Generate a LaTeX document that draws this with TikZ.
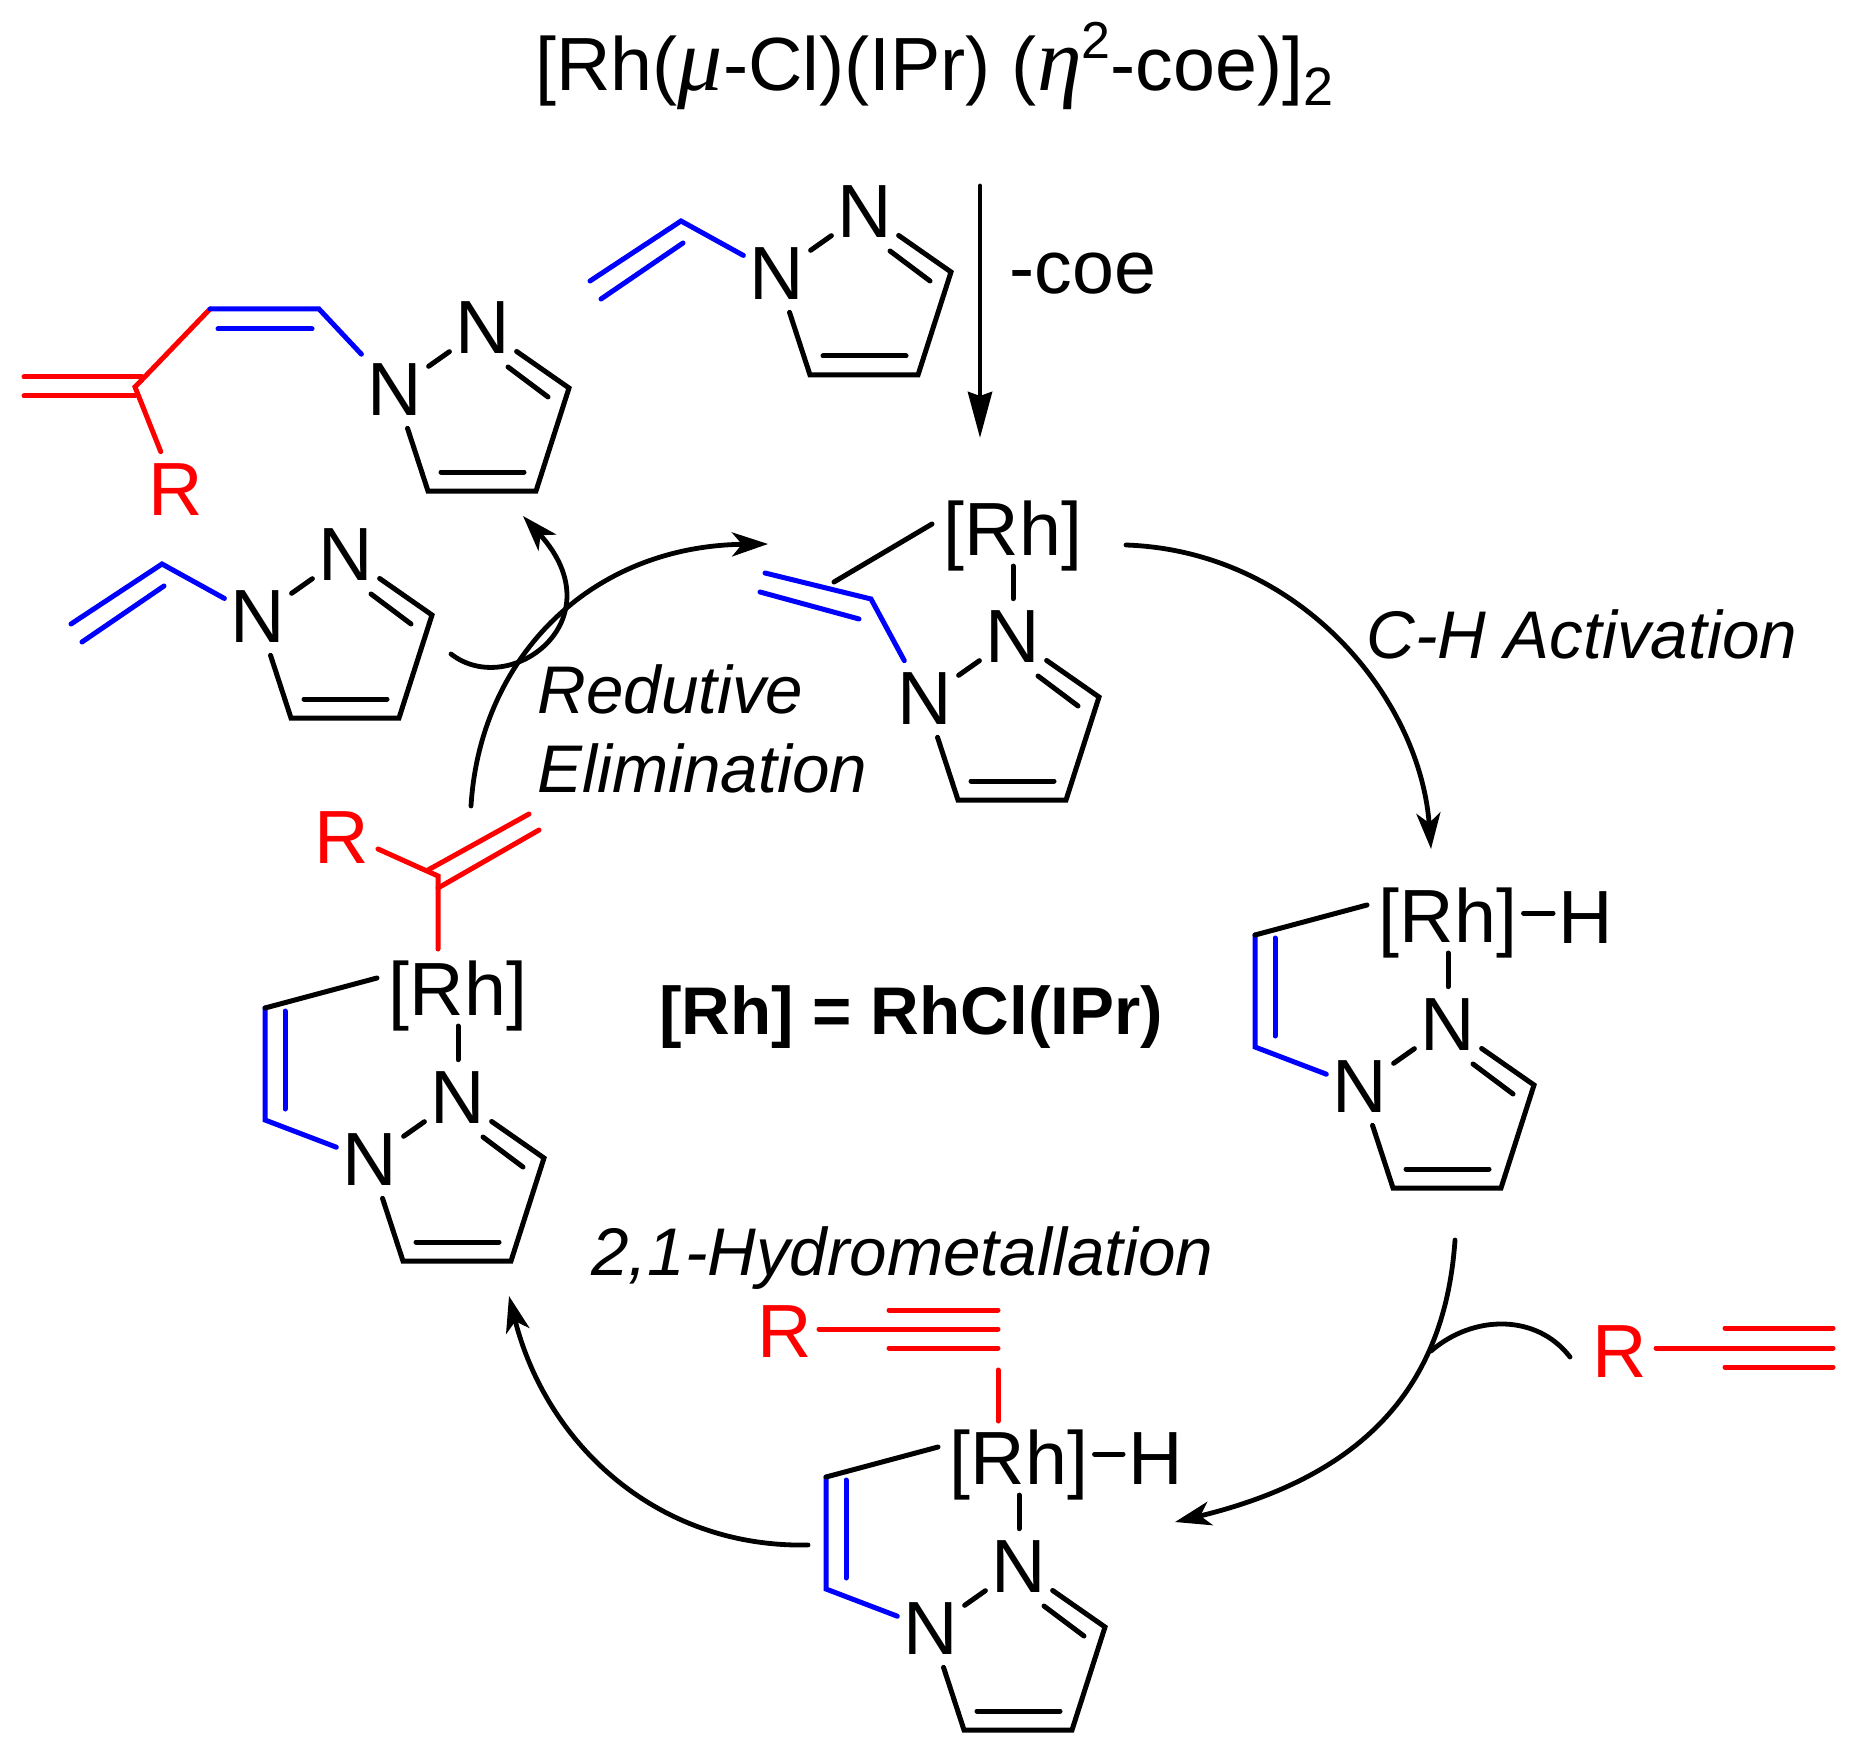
\documentclass[tikz,border=0pt]{standalone}
\usepackage{fontspec}
\setmainfont{Liberation Sans}
\newfontfamily\greekfont{Liberation Serif}
\usetikzlibrary{arrows.meta}

\newcommand\bigfont{\fontsize{37.7}{40}\selectfont}
\newcommand\stepfont{\fontsize{33.7}{36}\selectfont}
\newcommand\greekletter[1]{{\fontsize{45}{40}\greekfont\itshape #1}}

\tikzset{
  atom/.style={inner xsep=3pt,inner ysep=6pt,font=\bigfont},
  rhatom/.style={inner sep=0pt,font=\bigfont},
  word/.style={inner sep=0pt,anchor=base west},
  bond/.style={line width=2.5pt,line cap=round,line join=miter},
  redbond/.style={bond,red},
  bluebond/.style={bond,blue},
  rxn/.style={line width=2.4pt,line cap=round,-{Stealth[length=18pt,width=12pt,inset=5pt]}},
  pyrazole/.pic={
    \node[atom] (-n1) at (0,0) {N};
    \node[atom] (-n2) at (88,-62) {N};
    \coordinate (-c3) at (174,-2);
    \coordinate (-c4) at (141,101);
    \coordinate (-c5) at (33,101);
    \coordinate (-d1) at (113,-23);
    \coordinate (-d2) at (153,7);
    \coordinate (-d3) at (46,82);
    \coordinate (-d4) at (129,82);
    \draw[bond] (-n1) -- (-c5) -- (-c4) -- (-c3) -- (-n2);
    \draw[bond] (-n1) -- (-n2);
    \draw[bond] (-d1) -- (-d2);
    \draw[bond] (-d3) -- (-d4);
  },
  vinyl/.pic={
    \coordinate (-v1) at (-96,-53);
    \coordinate (-v2) at (-187,7);
    \coordinate (-v3) at (-94,-31);
    \coordinate (-v4) at (-176,25);
    \draw[bluebond] (-n1) -- (-v1) -- (-v2);
    \draw[bluebond] (-v3) -- (-v4);
  },
  chelate/.pic={
    \node[rhatom,anchor=base] (-rh) at (88,-145) {[Rh]};
    \coordinate (-b1) at (7,-182);
    \coordinate (-b2) at (-105,-152);
    \coordinate (-b3) at (-105,-40);
    \coordinate (-b4) at (-85,-149);
    \coordinate (-b5) at (-85,-51);
    \draw[bond,shorten >=-2.5pt] (-n2) -- (-rh.south);
    \draw[bluebond] (-b2) -- (-b3) -- (-n1);
    \draw[bluebond] (-b4) -- (-b5);
    \draw[bond] (-b1) -- (-b2);
  },
}

\begin{document}
\begin{tikzpicture}[x=0.5pt,y=-0.5pt]
  \useasboundingbox (0,0) rectangle (1866,1754);

  % texts
  \node[word,font=\bigfont] (title) at (535,91)
    {[Rh(\greekletter{μ}-Cl)(IPr) (\greekletter{η}\raisebox{16pt}{\fontsize{26}{28}\selectfont 2}-coe)]\raisebox{-7.5pt}{\fontsize{27}{28}\selectfont 2}};
  \node[word,font=\bigfont] (coe) at (1009,294) {-coe};
  \node[word,font=\stepfont\itshape] (step1) at (1366,658) {C-H Activation};
  \node[word,font=\stepfont\itshape] (step2) at (591,1275) {2,1-Hydrometallation};
  \node[word,font=\stepfont\itshape] (step3a) at (537,713) {Redutive};
  \node[word,font=\stepfont\itshape] (step3b) at (537,792) {Elimination};
  \node[word,font=\stepfont\bfseries] (key) at (659,1034) {[Rh] = RhCl(IPr)};

  % top substrate
  \pic (subA) at (777,274) {pyrazole};
  \pic (subA) at (777,274) {vinyl};
  \coordinate (dropA) at (980,186);
  \coordinate (dropB) at (980,438);
  \draw[rxn,-{Stealth[length=23pt,width=12pt,inset=2pt]}] (dropA) -- (dropB);

  % free product
  \pic (prod) at (395,390) {pyrazole};
  \coordinate (prodA) at (319,309);
  \coordinate (prodB) at (210,309);
  \coordinate (prodC) at (135,387);
  \coordinate (prodD) at (218,329);
  \coordinate (prodE) at (312,329);
  \coordinate (prodF) at (24,377);
  \coordinate (prodG) at (142,377);
  \coordinate (prodH) at (24,396);
  \coordinate (prodI) at (135,396);
  \node[atom,red] (prodR) at (176,490) {R};
  \draw[redbond] (prodB) -- (prodC) -- (prodR);
  \draw[redbond] (prodF) -- (prodG);
  \draw[redbond] (prodH) -- (prodI);
  \draw[bluebond] (prod-n1) -- (prodA) -- (prodB);
  \draw[bluebond] (prodD) -- (prodE);

  % incoming substrate
  \pic (subB) at (258,617) {pyrazole};
  \pic (subB) at (258,617) {vinyl};

  % pi complex
  \pic (cplxA) at (925,699) {pyrazole};
  \node[rhatom,anchor=base] (cplxRh) at (1013,555) {[Rh]};
  \coordinate (cplxB) at (871,599);
  \coordinate (cplxC) at (765,573);
  \coordinate (cplxD) at (859,619);
  \coordinate (cplxE) at (760,592);
  \coordinate (cplxF) at (834,582);
  \coordinate (cplxG) at (932,524);
  \draw[bond,shorten >=-2.5pt] (cplxA-n2) -- (cplxRh.south);
  \draw[bluebond] (cplxA-n1) -- (cplxB) -- (cplxC);
  \draw[bluebond] (cplxD) -- (cplxE);
  \draw[bond] (cplxF) -- (cplxG);

  % hydride
  \pic (hyd) at (1360,1087) {pyrazole};
  \pic (hyd) at (1360,1087) {chelate};
  \node[atom,inner xsep=2.5pt,anchor=base west] (hydH) at (1553,943) {H};
  \draw[bond,shorten <=3pt] ([yshift=2pt]hyd-rh.east |- hydH.west) -- ([yshift=2pt]hydH.west);

  % alkyne adduct
  \pic (alk) at (931,1629) {pyrazole};
  \pic (alk) at (931,1629) {chelate};
  \node[atom,inner xsep=2.5pt,anchor=base west] (alkH) at (1123,1484) {H};
  \draw[bond,shorten <=3pt] ([yshift=2pt]alk-rh.east |- alkH.west) -- ([yshift=2pt]alkH.west);
  \node[atom,red,inner sep=0pt,anchor=base west] (alkR) at (757,1357) {R};
  \coordinate (alkA) at (819,1329);
  \coordinate (alkB) at (998,1329);
  \coordinate (alkC) at (889,1310);
  \coordinate (alkD) at (998,1310);
  \coordinate (alkE) at (889,1348);
  \coordinate (alkF) at (998,1348);
  \coordinate (alkG) at (998,1370);
  \coordinate (alkI) at (998,1421);
  \draw[redbond] (alkA) -- (alkB);
  \draw[redbond] (alkC) -- (alkD);
  \draw[redbond] (alkE) -- (alkF);
  \draw[redbond] (alkG) -- (alkI);

  % alkyne reagent
  \node[atom,red,inner sep=0pt,anchor=base west] (reagR) at (1592,1377) {R};
  \coordinate (reagA) at (1656,1348);
  \coordinate (reagB) at (1833,1348);
  \coordinate (reagC) at (1725,1328);
  \coordinate (reagD) at (1833,1328);
  \coordinate (reagE) at (1725,1367);
  \coordinate (reagF) at (1833,1367);
  \draw[redbond] (reagA) -- (reagB);
  \draw[redbond] (reagC) -- (reagD);
  \draw[redbond] (reagE) -- (reagF);

  % vinyl adduct
  \pic (vin) at (370,1160) {pyrazole};
  \pic (vin) at (370,1160) {chelate};
  \node[atom,red,inner sep=0pt,anchor=base west] (vinR) at (314,863) {R};
  \coordinate (vinA) at (378,849);
  \coordinate (vinB) at (438,876);
  \coordinate (vinC) at (428,870);
  \coordinate (vinD) at (529,814);
  \coordinate (vinE) at (438,888);
  \coordinate (vinF) at (539,830);
  \coordinate (vinG) at (438,949);
  \draw[redbond] (vinA) -- (vinB) -- (vinG);
  \draw[redbond] (vinC) -- (vinD);
  \draw[redbond] (vinE) -- (vinF);

  % cycle arrows
  \coordinate (arcA) at (1126,545);
  \coordinate (arcB) at (1431,849);
  \draw[rxn] (arcA) .. controls (1300,551) and (1420,698) .. (arcB);
  \coordinate (arcC) at (1455,1240);
  \coordinate (arcD) at (1175,1522);
  \draw[rxn] (arcC) .. controls (1445,1386) and (1365,1476) .. (arcD);
  \coordinate (arcE) at (1570,1357);
  \coordinate (arcF) at (1431,1351);
  \draw[line width=2.4pt,line cap=round] (arcE) .. controls (1537,1314) and (1474,1314) .. (arcF);
  \coordinate (arcG) at (808,1545);
  \coordinate (arcH) at (509,1296);
  \draw[rxn] (arcG) .. controls (656,1548) and (546,1443) .. (arcH);
  \coordinate (arcI) at (471,806);
  \coordinate (arcJ) at (768,544);
  \draw[rxn] (arcI) .. controls (480,658) and (590,546) .. (arcJ);
  \coordinate (arcK) at (451,654);
  \coordinate (arcL) at (523,516);
  \draw[rxn] (arcK) .. controls (510,700) and (618,620) .. (arcL);
\end{tikzpicture}
\end{document}
